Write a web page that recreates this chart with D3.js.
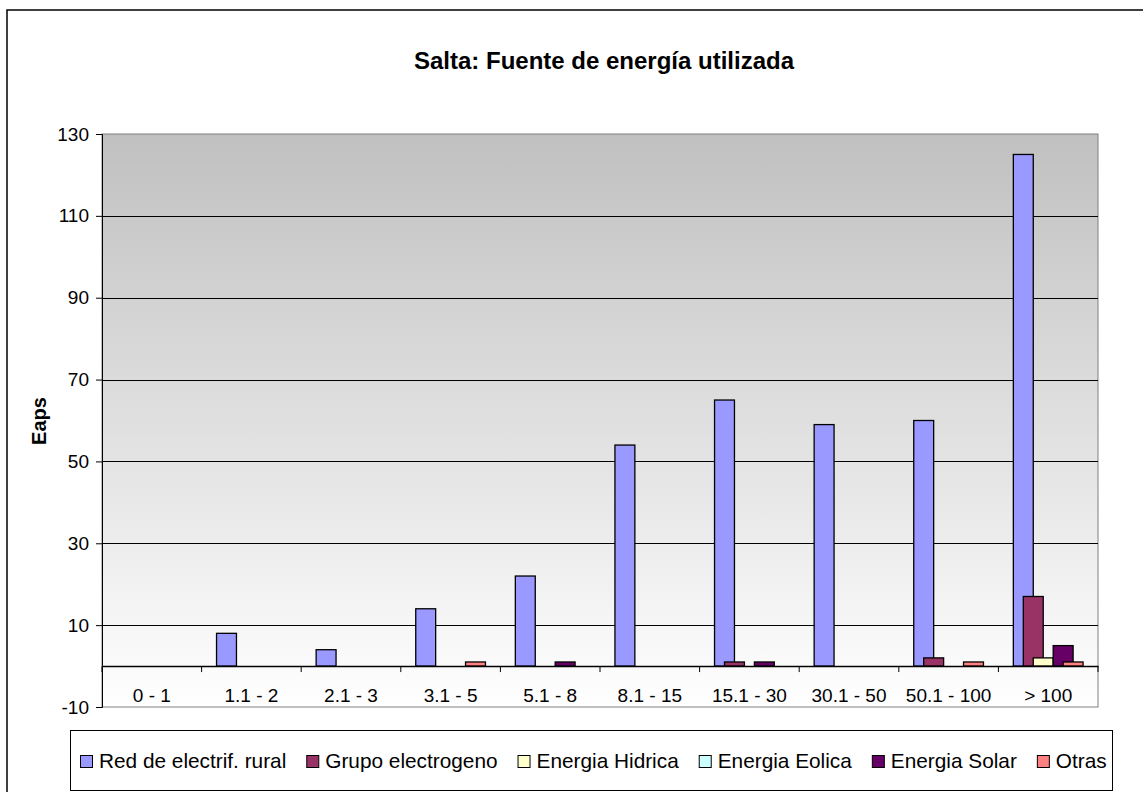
<!DOCTYPE html>
<html>
<head>
<meta charset="utf-8">
<script src="https://cdn.jsdelivr.net/npm/d3@7"></script>
<style>
  body { margin: 0; background: #fff; }
  text { font-family: Arial, "Liberation Sans", sans-serif; }
</style>
</head>
<body>
<div id="container"></div>
<script>
const categories = ["0 - 1", "1.1 - 2", "2.1 - 3", "3.1 - 5", "5.1 - 8", "8.1 - 15", "15.1 - 30", "30.1 - 50", "50.1 - 100", "> 100"];
const seriesNames = ["Red de electrif. rural", "Grupo electrogeno", "Energia Hidrica", "Energia Eolica", "Energia Solar", "Otras"];
const seriesColors = ["#9999ff", "#993366", "#ffffcc", "#ccffff", "#660066", "#ff8080"];

const redRural = [0, 8, 4, 14, 22, 54, 65, 59, 60, 125];
const grupoElectrogeno = [0, 0, 0, 0, 0, 0, 1, 0, 2, 17];
const energiaHidrica = [0, 0, 0, 0, 0, 0, 0, 0, 0, 2];
const energiaEolica = [0, 0, 0, 0, 0, 0, 0, 0, 0, 0];
const energiaSolar = [0, 0, 0, 0, 1, 0, 1, 0, 0, 5];
const otras = [0, 0, 0, 1, 0, 0, 0, 0, 1, 1];

const yTicks = [-10, 10, 30, 50, 70, 90, 110, 130];

const seriesValues = [redRural, grupoElectrogeno, energiaHidrica, energiaEolica, energiaSolar, otras];

const w = 1143;
const h = 792;
const plotLeft = 102, plotRight = 1098, plotTop = 134, plotBottom = 707;

const svg = d3.select("#container")
  .append("svg")
  .attr("width", w)
  .attr("height", h);

// outer chart border
svg.append("rect")
  .attr("x", 7)
  .attr("y", 10)
  .attr("width", w + 20)
  .attr("height", h + 20)
  .attr("fill", "#fff")
  .attr("stroke", "#000")
  .attr("stroke-width", 1.5);

const defs = svg.append("defs");
const grad = defs.append("linearGradient")
  .attr("id", "bg")
  .attr("x1", 0).attr("y1", 0)
  .attr("x2", 0).attr("y2", 1);
grad.append("stop").attr("offset", "0%").attr("stop-color", "#c0c0c0");
grad.append("stop").attr("offset", "100%").attr("stop-color", "#ffffff");

const xScale = d3.scaleBand()
  .domain(categories)
  .range([plotLeft, plotRight])
  .padding(0);

const yScale = d3.scaleLinear()
  .domain([-10, 130])
  .range([plotBottom, plotTop]);

svg.append("rect")
  .attr("x", plotLeft)
  .attr("y", plotTop)
  .attr("width", plotRight - plotLeft)
  .attr("height", plotBottom - plotTop)
  .attr("fill", "url(#bg)")
  .attr("stroke", "#808080")
  .attr("stroke-width", 1);

// gridlines
svg.append("g")
  .selectAll("line")
  .data(yTicks.filter((t) => t > -10 && t < 130))
  .enter()
  .append("line")
  .attr("x1", plotLeft)
  .attr("x2", plotRight)
  .attr("y1", (d) => Math.round(yScale(d)) + 0.5)
  .attr("y2", (d) => Math.round(yScale(d)) + 0.5)
  .attr("stroke", "#000")
  .attr("stroke-width", 1);

// y axis
const yAxis = d3.axisLeft(yScale)
  .tickValues(yTicks)
  .tickSize(6)
  .tickPadding(7)
  .tickFormat((d) => String(d));
const yg = svg.append("g")
  .attr("transform", "translate(" + plotLeft + ", 0)")
  .call(yAxis);
yg.selectAll("text")
  .style("font-size", "19px")
  .attr("fill", "#000");
yg.selectAll("line, path").attr("stroke", "#000");

// bars
const bw = xScale.bandwidth();
const barW = bw * 0.2;
const step = barW / 2;
const start = (bw - (barW + 5 * step)) / 2;
const xOffset = d3.scaleLinear()
  .domain([0, seriesNames.length - 1])
  .range([start, start + (seriesNames.length - 1) * step]);

seriesValues.forEach((vals, si) => {
  svg.append("g")
    .selectAll("rect")
    .data(vals.map((v, i) => ({ cat: categories[i], v: v })).filter((d) => d.v > 0))
    .enter()
    .append("rect")
    .attr("x", (d) => xScale(d.cat) + xOffset(si))
    .attr("y", (d) => yScale(d.v))
    .attr("width", barW)
    .attr("height", (d) => yScale(0) - yScale(d.v))
    .attr("fill", seriesColors[si])
    .attr("stroke", "#000")
    .attr("stroke-width", 1.3);
});

// category axis on zero line
const xAxis = d3.axisBottom(xScale)
  .tickSize(0)
  .tickPadding(0);
const xg = svg.append("g")
  .attr("transform", "translate(0, " + yScale(0) + ")")
  .call(xAxis);
xg.select(".domain").attr("stroke", "#000").attr("stroke-width", 1.5);
xg.selectAll("text")
  .attr("y", 36)
  .attr("dy", 0)
  .style("font-size", "19px")
  .attr("fill", "#000");
xg.selectAll(".tick line").remove();
xg.selectAll(".sep")
  .data(categories.concat(["end"]))
  .enter()
  .append("line")
  .attr("x1", (d, i) => i < categories.length ? xScale(d) : plotRight)
  .attr("x2", (d, i) => i < categories.length ? xScale(d) : plotRight)
  .attr("y1", 0)
  .attr("y2", 6)
  .attr("stroke", "#000");

// title
svg.append("text")
  .attr("x", 604)
  .attr("y", 69)
  .attr("text-anchor", "middle")
  .style("font-size", "24px")
  .style("font-weight", "bold")
  .text("Salta: Fuente de energía utilizada");

// y label
svg.append("text")
  .attr("transform", "translate(46, 421) rotate(-90)")
  .attr("text-anchor", "middle")
  .style("font-size", "20px")
  .style("font-weight", "bold")
  .text("Eaps");

// legend
const legend = svg.append("g");
legend.append("rect")
  .attr("x", 70.5)
  .attr("y", 730.5)
  .attr("width", 1042)
  .attr("height", 60)
  .attr("fill", "#fff")
  .attr("stroke", "#000")
  .attr("stroke-width", 1);

let lx = 80;
seriesNames.forEach((name, i) => {
  legend.append("rect")
    .attr("x", lx + 0.5)
    .attr("y", 755.5)
    .attr("width", 12)
    .attr("height", 12)
    .attr("fill", seriesColors[i])
    .attr("stroke", "#000");
  const t = legend.append("text")
    .attr("x", lx + 19)
    .attr("y", 768)
    .style("font-size", "20.8px")
    .text(name);
  lx = lx + 19 + t.node().getComputedTextLength() + 20;
});
</script>
</body>
</html>
